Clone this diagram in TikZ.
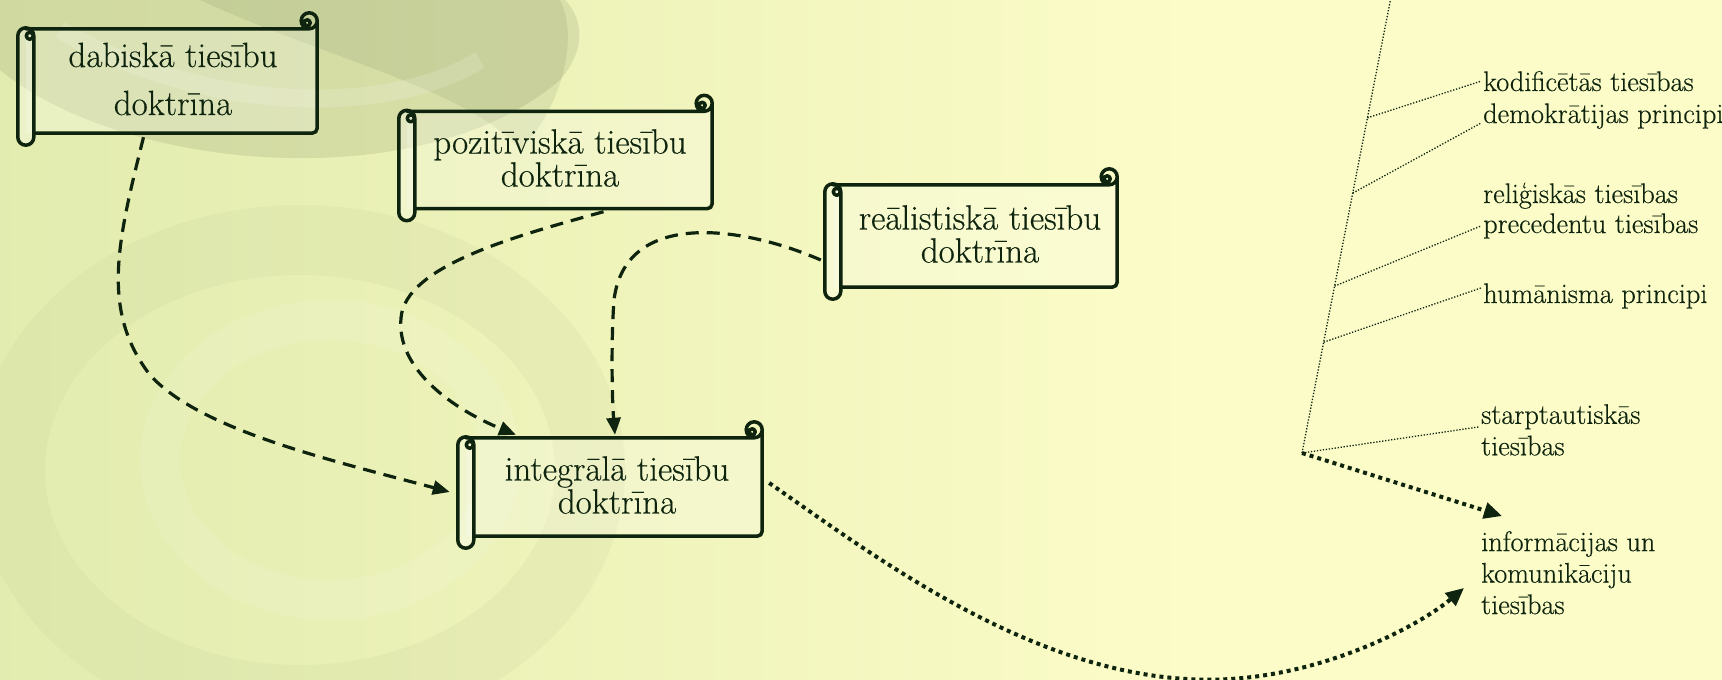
\documentclass[tikz,border=0pt]{standalone}
\usepackage{fontspec}
\setmainfont{Latin Modern Roman}[FakeBold=0.35]
\usetikzlibrary{arrows.meta,calc}
\pgfdeclarelayer{bglayer}
\pgfdeclarelayer{scrolllayer}
\pgfsetlayers{bglayer,scrolllayer,main}
\definecolor{ink}{HTML}{0E240E}
\definecolor{bgL}{HTML}{D9E6A6}
\definecolor{bgR}{HTML}{FCFCC8}
\definecolor{swirl}{HTML}{6F7B52}
\pgfdeclarehorizontalshading{bgshade}{100bp}{color(0bp)=(bgL); color(30bp)=(bgL!65!bgR); color(60bp)=(bgR); color(100bp)=(bgR)}
\tikzset{
  scrollnode/.style={inner sep=0pt, align=center, text=ink, font=\fontsize{35}{33}\selectfont},
  scrollline/.style={draw=ink, line width=3.5pt, line join=round, line cap=round},
  sidelabel/.style={anchor=base west, inner sep=2pt, align=left, text=ink, font=\fontsize{28.3}{31.5}\selectfont},
  dashedarrow/.style={draw=ink, line width=3.2pt, dash pattern=on 13pt off 8pt, -{Triangle[length=17pt,width=14pt]}},
  thindot/.style={draw=ink, line width=1.3pt, dash pattern=on 1.3pt off 1.7pt},
  thickdot/.style={draw=ink, line width=4pt, dash pattern=on 4pt off 4pt, -{Triangle[length=18pt,width=16pt]}},
}
\newcommand\scrollshape[1]{%
  \begin{pgfonlayer}{scrolllayer}
  \fill[white, opacity=0.22] let \p1=(#1.north west), \p2=(#1.south east) in
    (\x1+8pt,\y1-16pt) rectangle (\x2,\y2+12pt);
  \fill[white, opacity=0.3, rounded corners=8pt] let \p1=(#1.north west), \p2=(#1.south east) in
    (\x1,\y1-15pt) rectangle (\x1+16pt,\y2);
  \draw[scrollline] let \p1=(#1.north west), \p2=(#1.south east) in
    (\x1+8pt,\y1-16pt) -- (\x2-8pt,\y1-16pt)
    (\x2-8pt,\y1-8pt) circle[radius=8pt]
    (\x2-10pt,\y1-10pt) circle[radius=3pt]
    (\x2,\y1-8pt) -- (\x2,\y2+17pt) arc[start angle=0,end angle=-90,radius=5pt] -- (\x1+16pt,\y2+12pt)
    (\x1+12pt,\y1-23pt) circle[radius=3.5pt];
  \draw[scrollline, rounded corners=8pt] let \p1=(#1.north west), \p2=(#1.south east) in
    (\x1,\y1-15pt) rectangle (\x1+16pt,\y2);
  \end{pgfonlayer}
}
\newcommand\sh[2]{\hspace*{#1pt}#2}
\begin{document}
\begin{tikzpicture}[x=1pt,y=-1pt]
\useasboundingbox (0,0) rectangle (1722,680);
\begin{pgfonlayer}{bglayer}
\clip (0,0) rectangle (1722,680);
\shade[shading=bgshade] (0,0) rectangle (1722,680);
\fill[swirl, opacity=0.16] (0,0) -- (0,70) .. controls (120,170) and (420,200) .. (560,80) .. controls (590,45) and (580,15) .. (565,0) -- cycle;
\fill[swirl, opacity=0.14] (200,0) .. controls (330,60) and (470,90) .. (520,150) .. controls (560,110) and (580,40) .. (560,0) -- cycle;
\draw[white, opacity=0.15, line width=18pt] (60,30) .. controls (200,110) and (380,120) .. (480,60);
\draw[swirl, opacity=0.05, line width=70pt] (300,470) ellipse[x radius=290, y radius=230];
\draw[white, opacity=0.10, line width=40pt] (330,460) ellipse[x radius=170, y radius=140];
\end{pgfonlayer}
% scrolls
\node[scrollnode, font=\fontsize{35}{48}\selectfont, minimum width=299pt, minimum height=132pt] (dab) at (167.5,79) {\sh{11}{dabiskā tiesību}\\\sh{11}{doktrīna}};
\node[scrollnode, minimum width=313pt, minimum height=125pt] (poz) at (555.5,158) {\sh{9}{pozitīviskā tiesību}\\\sh{9}{doktrīna}};
\node[scrollnode, minimum width=292pt, minimum height=130pt] (rea) at (971,234) {\sh{18}{reālistiskā tiesību}\\\sh{18}{doktrīna}};
\node[scrollnode, minimum width=304pt, minimum height=126pt] (int) at (610,485) {\sh{14}{integrālā tiesību}\\\sh{14}{doktrīna}};
\scrollshape{dab}
\scrollshape{poz}
\scrollshape{rea}
\scrollshape{int}
% right labels
\node[sidelabel] (kod) at (1481,91) {kodificētās tiesības};
\node[sidelabel] (dem) at (1481,123) {demokrātijas principi};
\node[sidelabel] (rel) at (1481,203) {reliģiskās tiesības};
\node[sidelabel] (prec) at (1481,233) {precedentu tiesības};
\node[sidelabel] (hum) at (1481,303) {humānisma principi};
\node[sidelabel, anchor=north west] (starp) at (1479,402) {starptautiskās\\tiesības};
\node[sidelabel, anchor=north west] (info) at (1479,529) {informācijas un\\komunikāciju\\tiesības};
% tree of dotted lines
\coordinate (ttop) at (1391,-3);
\coordinate (hub) at (1302,453);
\draw[thindot] (hub) -- (ttop);
\draw[thindot] ($(hub)!0.735!(ttop)$) -- (kod.west);
\draw[thindot] ($(hub)!0.570!(ttop)$) -- ([yshift=-7pt]dem.west);
\draw[thindot] ($(hub)!0.366!(ttop)$) -- (prec.west);
\draw[thindot] ($(hub)!0.243!(ttop)$) -- ([yshift=8pt]hum.west);
\draw[thindot] (hub) -- ([yshift=3pt]starp.west);
\draw[thickdot] (hub) -- ([xshift=23pt,yshift=13pt]info.north west);
% dashed connectors
\draw[dashedarrow] ([xshift=-24pt,yshift=8pt]dab.south) .. controls (118,240) and (100,310) .. (150,375) .. controls (200,430) and (330,460) .. ([xshift=-8pt,yshift=-7pt]int.west);
\draw[dashedarrow] ([xshift=48pt,yshift=9pt]poz.south) .. controls (520,235) and (405,265) .. (401,318) .. controls (396,370) and (455,410) .. ([xshift=-94pt,yshift=-13pt]int.north);
\draw[dashedarrow] ([xshift=-4pt,yshift=-26pt]rea.west) .. controls (740,225) and (625,210) .. (614,300) .. controls (611,340) and (612,400) .. ([xshift=5pt,yshift=-13pt]int.north);
% dotted curve
\draw[thickdot] ([xshift=7pt,yshift=2pt]int.east) .. controls (880,560) and (1050,690) .. (1230,679) .. controls (1330,673) and (1420,625) .. ([xshift=-15pt,yshift=-59pt]info.north west);
\end{tikzpicture}
\end{document}
